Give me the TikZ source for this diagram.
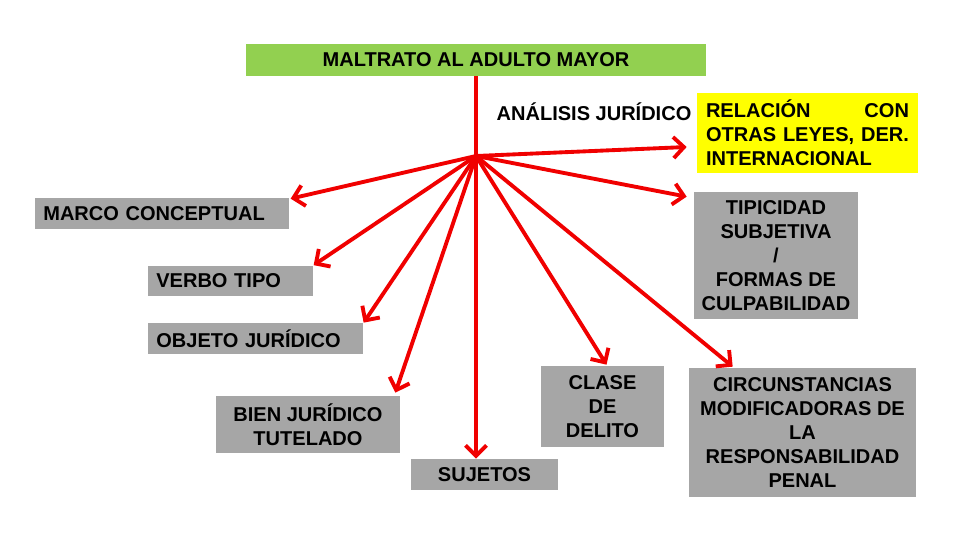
\documentclass[tikz,border=0pt]{standalone}
\usepackage{fontspec}
\setmainfont{Liberation Sans}
\usetikzlibrary{arrows.meta,positioning,calc}
\definecolor{titlegreen}{RGB}{146,208,80}
\definecolor{boxgray}{RGB}{166,166,166}
\definecolor{relyellow}{RGB}{255,255,0}
\definecolor{arrowred}{RGB}{240,0,0}

\begin{document}
\begin{tikzpicture}[x=0.02cm, y=-0.02cm,
  txt/.style={font=\fontsize{11.4}{13.7}\selectfont\bfseries, text=black},
  graybox/.style={txt, fill=boxgray, inner sep=0pt, align=center},
  leftbox/.style={txt, fill=boxgray, inner xsep=0.16cm, inner ysep=0pt, minimum height=0.62cm, align=left},
  redarrow/.style={draw=arrowred, line width=2.2pt, -{Straight Barb[length=6pt,width=12pt]}}]
\useasboundingbox[fill=white] (0,0) rectangle (960,540);

\node[txt, fill=titlegreen, minimum width=9.2cm, minimum height=0.64cm, inner sep=0pt] (title) at (476,60) {MALTRATO AL ADULTO MAYOR};
\coordinate (hub) at (476,156);
\node[txt, inner sep=0pt] (analisis) at (594,112) {ANÁLISIS JURÍDICO};
\node[txt, fill=relyellow, text width=4.06cm, inner xsep=0.18cm, inner ysep=0pt, minimum height=1.6cm, align=left] (rel) at (807.5,133) {RELACIÓN\hfill CON\\OTRAS\hfill LEYES,\hfill DER.\\INTERNACIONAL};
\node[leftbox, text width=4.76cm, anchor=west] (marco) at (35,213.5) {MARCO CONCEPTUAL};
\node[leftbox, text width=2.98cm, anchor=west] (verbo) at (148,281) {VERBO TIPO};
\node[leftbox, text width=3.98cm, anchor=west] (objeto) at (148,338.5) {OBJETO JURÍDICO};
\node[graybox, minimum width=3.68cm, minimum height=1.14cm] (bien) at (308,424.5) {BIEN JURÍDICO\\TUTELADO};
\node[graybox, minimum width=2.94cm, minimum height=0.62cm] (sujetos) at (484.5,474.5) {SUJETOS};
\node[graybox, minimum width=2.46cm, minimum height=1.62cm] (clase) at (602.5,406.5) {CLASE\\DE\\DELITO};
\node[graybox, minimum width=4.54cm, minimum height=2.58cm] (circ) at (802.5,432.5) {CIRCUNSTANCIAS\\MODIFICADORAS DE\\LA\\RESPONSABILIDAD\\PENAL};
\node[graybox, minimum width=3.28cm, minimum height=2.54cm] (tipi) at (776,255.5) {TIPICIDAD\\SUBJETIVA\\/\\ FORMAS DE\\CULPABILIDAD};

% trunk
\draw[arrowred, line width=2.2pt] (title.south -| hub) -- (hub);
\draw[redarrow] (hub) -- (hub |- sujetos.north);
% branches
\draw[redarrow] (hub) -- ([shift={(-10,14)}]rel.west);
\draw[redarrow] (hub) -- ([shift={(-7,5)}]tipi.north west);
\draw[redarrow] (hub) -- ([shift={(1,1)}]marco.north east);
\draw[redarrow] (hub) -- (verbo.north east);
\draw[redarrow] (hub) -- (objeto.north east);
\draw[redarrow] (hub) -- ([shift={(-5,-3)}]bien.north east);
\draw[redarrow] (hub) -- ([shift={(4,-1)}]clase.north);
\draw[redarrow] (hub) -- ([shift={(44,-1)}]circ.north west);

\end{tikzpicture}
\end{document}
